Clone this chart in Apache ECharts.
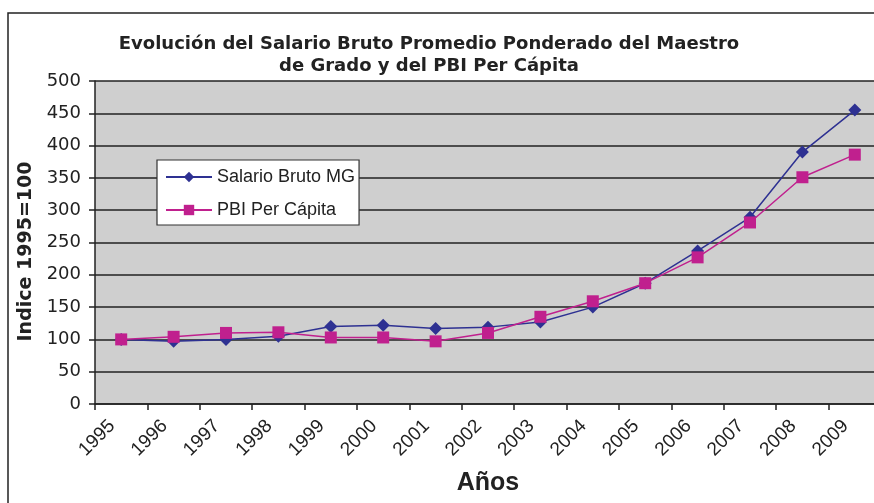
<!DOCTYPE html>
<html>
<head>
<meta charset="utf-8">
<script src="https://cdn.jsdelivr.net/npm/echarts@6/dist/echarts.min.js"></script>
<style>
html, body { margin: 0; padding: 0; background: #fff; }
#echart { width: 874px; height: 503px; }
</style>
</head>
<body>
<div id="echart"></div>
<script>
var years = ['1995', '1996', '1997', '1998', '1999', '2000', '2001', '2002',
             '2003', '2004', '2005', '2006', '2007', '2008', '2009'];
var salarioMG = [100, 97, 100, 105, 120, 122, 117, 119, 127, 150, 187, 237, 289, 390, 455];
var pbiPerCapita = [100, 104, 110, 111, 103, 103, 97, 110, 135, 159, 187, 227, 281, 351, 386];
var yTicks = [0, 50, 100, 150, 200, 250, 300, 350, 400, 450, 500];

var myChart = echarts.init(document.getElementById('echart'));

var option = {
    backgroundColor: '#fff',
    animation: false,
    title: {
        text: 'Evolución del Salario Bruto Promedio Ponderado del Maestro\nde Grado y del PBI Per Cápita',
        left: 424,
        top: 28,
        textAlign: 'center',
        textStyle: {
            fontFamily: 'DejaVu Sans',
            fontWeight: 'bold',
            fontSize: 18,
            lineHeight: 22,
            color: '#222'
        }
    },
    graphic: [{
        type: 'rect',
        shape: { x: 8, y: 13, width: 900, height: 600 },
        style: { fill: 'none', stroke: '#222', lineWidth: 1.5 },
        silent: true
    }],
    legend: {
        orient: 'vertical',
        left: 157,
        top: 160,
        padding: [8, 4, 6, 8],
        itemGap: 15,
        itemWidth: 46,
        itemHeight: 13,
        backgroundColor: '#fff',
        borderColor: '#333',
        borderWidth: 1.2,
        textStyle: {
            fontFamily: 'Liberation Sans',
            fontSize: 18,
            color: '#222'
        },
        data: ['Salario Bruto MG', 'PBI Per Cápita']
    },
    grid: {
        left: 95,
        right: -7,
        top: 81,
        bottom: 99,
        outerBoundsMode: 'none',
        show: true,
        backgroundColor: '#cfcfcf',
        borderWidth: 0
    },
    xAxis: {
        type: 'category',
        data: years,
        boundaryGap: true,
        name: 'Años',
        nameLocation: 'middle',
        nameGap: 67,
        nameTextStyle: {
            fontFamily: 'Liberation Sans',
            fontWeight: 'bold',
            fontSize: 25,
            color: '#222'
        },
        axisLine: { lineStyle: { color: '#222', width: 1.5 } },
        axisTick: { show: true, length: 6, lineStyle: { color: '#222', width: 1.5 } },
        axisLabel: {
            rotate: 45,
            margin: 10,
            padding: [0, 13, 0, 0],
            fontFamily: 'Liberation Sans',
            fontSize: 19,
            color: '#222',
            interval: 0
        },
        splitLine: { show: false }
    },
    yAxis: {
        type: 'value',
        min: 0,
        max: 500,
        interval: 50,
        name: 'Indice 1995=100',
        nameLocation: 'middle',
        nameRotate: 90,
        nameGap: 56,
        nameTextStyle: {
            fontFamily: 'DejaVu Sans',
            fontWeight: 'bold',
            fontSize: 19,
            color: '#222',
            padding: [0, 18, 0, 0]
        },
        axisLine: { show: true, lineStyle: { color: '#222', width: 1.5 } },
        axisTick: { show: true, length: 6, lineStyle: { color: '#222', width: 1.5 } },
        axisLabel: {
            margin: 14,
            fontFamily: 'DejaVu Sans',
            fontSize: 18,
            color: '#222',
            formatter: function (v) { return yTicks.indexOf(v) >= 0 ? String(v) : ''; }
        },
        splitLine: { show: true, lineStyle: { color: '#222', width: 1.5 } }
    },
    series: [
        {
            name: 'Salario Bruto MG',
            type: 'line',
            data: salarioMG,
            symbol: 'diamond',
            symbolSize: 13,
            lineStyle: { color: '#2e3192', width: 1.5 },
            itemStyle: { color: '#2e3192' },
            z: 3
        },
        {
            name: 'PBI Per Cápita',
            type: 'line',
            data: pbiPerCapita,
            symbol: 'rect',
            symbolSize: 12,
            lineStyle: { color: '#c0208e', width: 1.5 },
            itemStyle: { color: '#c0208e' },
            z: 4
        }
    ]
};
myChart.setOption(option);
</script>
</body>
</html>
